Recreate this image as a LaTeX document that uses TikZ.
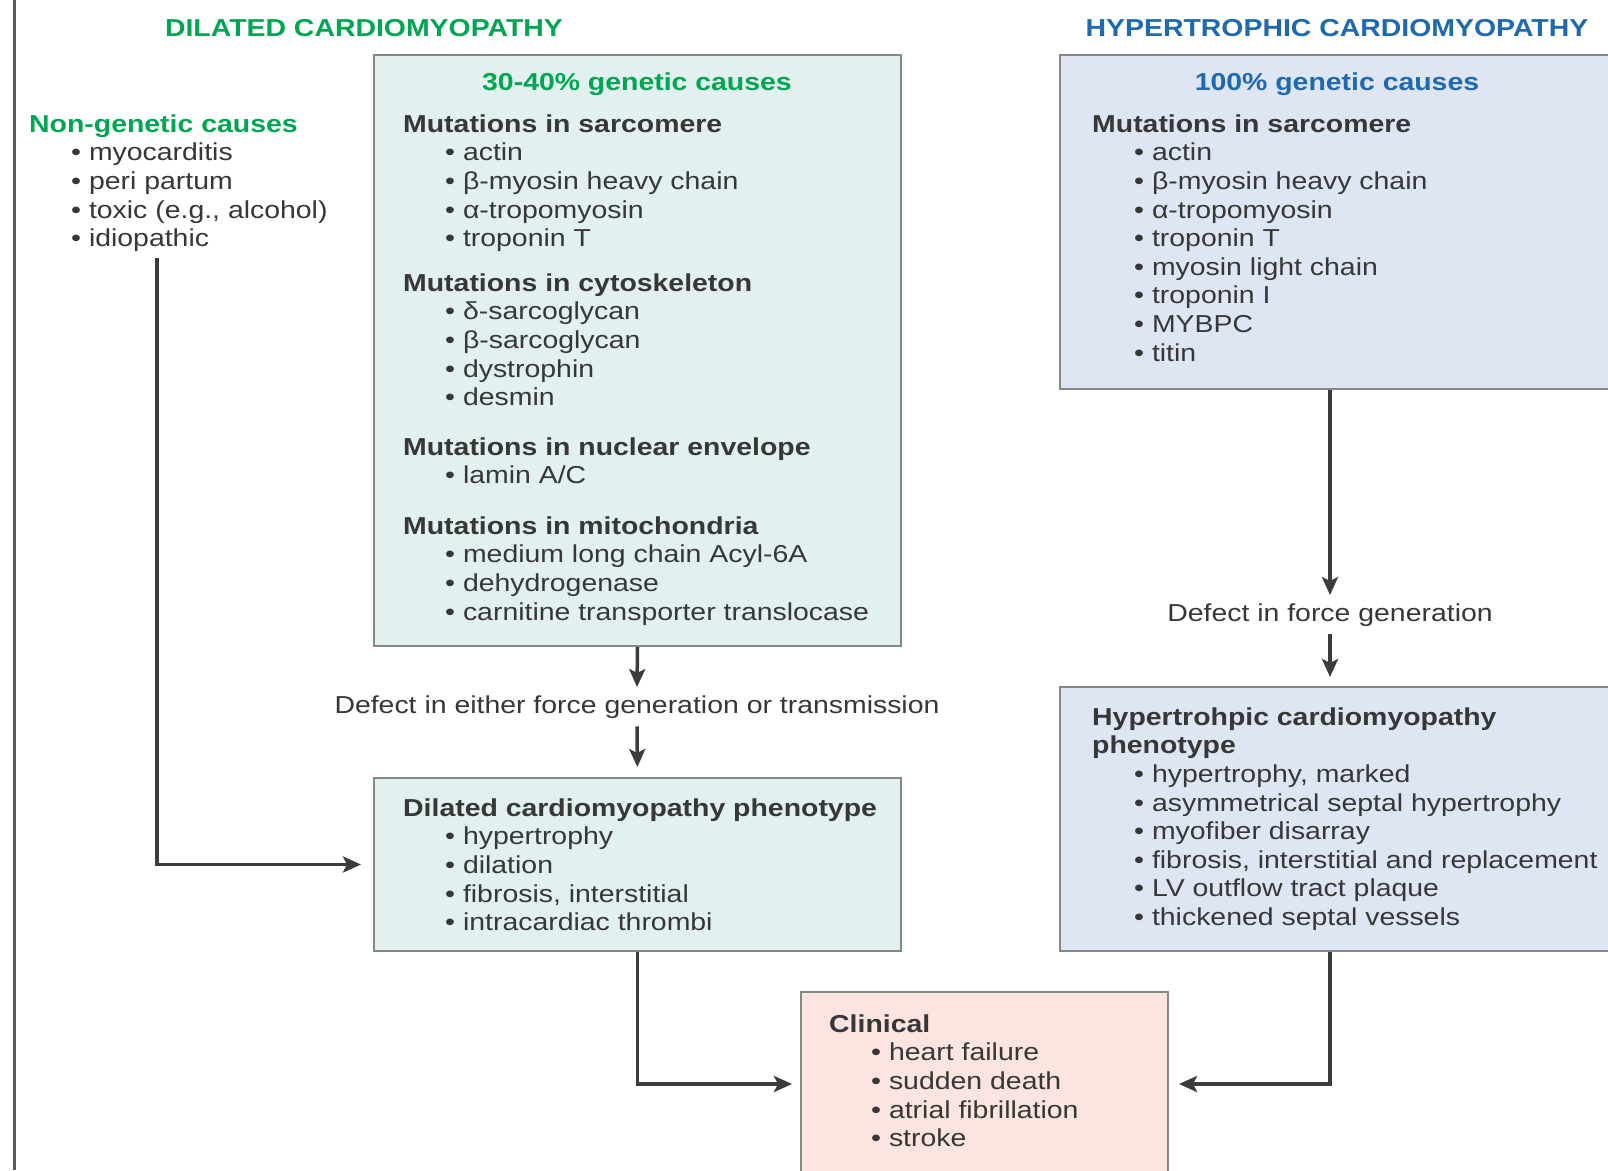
\documentclass[tikz,border=0pt]{standalone}
\usepackage{fontspec}
\setmainfont{Liberation Sans}[FakeStretch=1.16]
\usetikzlibrary{arrows.meta}

\definecolor{dcmgreen}{RGB}{0,166,81}
\definecolor{hcmblue}{RGB}{30,105,175}
\definecolor{dcmfill}{RGB}{226,240,240}
\definecolor{hcmfill}{RGB}{222,230,243}
\definecolor{clinfill}{RGB}{252,228,224}
\definecolor{boxline}{RGB}{135,135,135}
\definecolor{txt}{RGB}{55,55,55}
\definecolor{arrowc}{RGB}{60,60,60}

\newcommand{\itm}{\\\hspace*{42pt}\textbullet\ }

\tikzset{
  box/.style={draw=boxline,line width=2pt,anchor=north west,inner sep=0pt},
  lst/.style={anchor=north west,align=left,inner sep=0pt,text=txt},
  ttl/.style={anchor=base,inner sep=0pt,font=\bfseries},
  lbl/.style={anchor=base,inner xsep=0pt,inner ysep=8pt,text=txt},
  flow/.style={-{Stealth[length=18pt,width=16pt,inset=4pt]},line width=3.5pt,draw=arrowc}
}

\begin{document}
\fontsize{24.5}{28.6}\selectfont
\begin{tikzpicture}[x=1pt,y=-1pt]
  \useasboundingbox (0,0) rectangle (1608,1170);
  \clip (0,0) rectangle (1608,1170);
  \fill[white] (0,0) rectangle (1608,1170);

  % side rule
  \draw[line width=3pt,draw=black!65] (14,0) -- (14,1170);

  % boxes
  \node[box,fill=dcmfill,minimum width=527pt,minimum height=591pt] (gdcm) at (373,54) {};
  \node[box,fill=hcmfill,minimum width=600pt,minimum height=334pt] (hgen) at (1059,54) {};
  \node[box,fill=dcmfill,minimum width=527pt,minimum height=173pt] (dphen) at (373,777) {};
  \node[box,fill=hcmfill,minimum width=600pt,minimum height=264pt] (hphen) at (1059,686) {};
  \node[box,fill=clinfill,minimum width=367pt,minimum height=184pt] (clin) at (800,991) {};

  % headings
  \node[ttl,text=dcmgreen] (dtitle) at (364,36) {DILATED CARDIOMYOPATHY};
  \node[ttl,text=hcmblue] (htitle) at (1337,36) {HYPERTROPHIC CARDIOMYOPATHY};
  \node[ttl,text=dcmgreen] (dgen) at (637,90) {30-40\% genetic causes};
  \node[ttl,text=hcmblue] (hgentitle) at (1337,90) {100\% genetic causes};

  % non-genetic causes
  \node[lst] (nongen) at (29,112) {\strut\textcolor{dcmgreen}{\textbf{Non-genetic causes}}%
    \itm myocarditis\itm peri partum\itm toxic (e.g., alcohol)\itm idiopathic};
  \coordinate (ngtail) at (157,258);

  % dilated: genetic causes
  \node[lst] (dsarc) at (403,112) {\strut\textbf{Mutations in sarcomere}%
    \itm actin\itm β-myosin heavy chain\itm α-tropomyosin\itm troponin T};
  \node[lst] (dcyto) at (403,271) {\strut\textbf{Mutations in cytoskeleton}%
    \itm δ-sarcoglycan\itm β-sarcoglycan\itm dystrophin\itm desmin};
  \node[lst] (dnucl) at (403,435) {\strut\textbf{Mutations in nuclear envelope}%
    \itm lamin A/C};
  \node[lst] (dmito) at (403,514) {\strut\textbf{Mutations in mitochondria}%
    \itm medium long chain Acyl-6A\itm dehydrogenase\itm carnitine transporter translocase};

  % hypertrophic: genetic causes
  \node[lst] (hsarc) at (1092,112) {\strut\textbf{Mutations in sarcomere}%
    \itm actin\itm β-myosin heavy chain\itm α-tropomyosin\itm troponin T%
    \itm myosin light chain\itm troponin I\itm MYBPC\itm titin};

  % phenotypes
  \node[lst] (dphentxt) at (403,796) {\strut\textbf{Dilated cardiomyopathy phenotype}%
    \itm hypertrophy\itm dilation\itm fibrosis, interstitial\itm intracardiac thrombi};
  \node[lst] (hphentxt) at (1092,705) {\strut\textbf{Hypertrohpic cardiomyopathy}\\\textbf{phenotype}%
    \itm hypertrophy, marked\itm asymmetrical septal hypertrophy\itm myofiber disarray%
    \itm fibrosis, interstitial and replacement\itm LV outflow tract plaque\itm thickened septal vessels};
  \node[lst] (clintxt) at (829,1012) {\strut\textbf{Clinical}%
    \itm heart failure\itm sudden death\itm atrial fibrillation\itm stroke};

  % defect labels
  \node[lbl] (ddef) at (637,713) {Defect in either force generation or transmission};
  \node[lbl] (hdef) at (1330,621) {Defect in force generation};

  % arrows
  \draw[flow] (gdcm.south) -- (ddef.north);
  \draw[flow,shorten >=10pt] (ddef.south) -- (dphen.north);
  \draw[flow] (hdef.north |- hgen.south) -- (hdef.north);
  \draw[flow,shorten >=9pt] (hdef.south) -- (hdef.south |- hphen.north);
  \draw[flow,shorten >=12pt] (ngtail) |- (dphen.west);
  \draw[flow,shorten >=8pt] (dphen.south) |- (clin.west);
  \draw[flow,shorten >=10pt] (hdef.south |- hphen.south) |- (clin.east);
\end{tikzpicture}
\end{document}
